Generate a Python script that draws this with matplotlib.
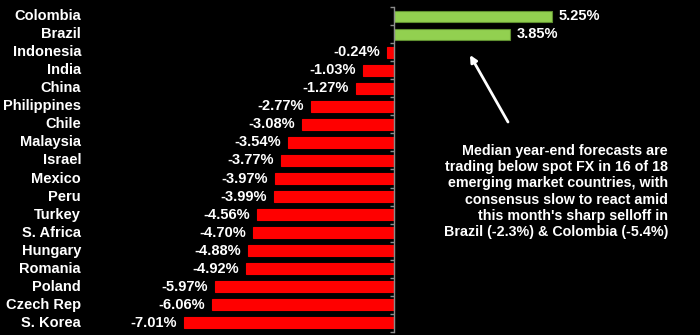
import matplotlib
matplotlib.use("Agg")
import matplotlib.pyplot as plt
import numpy as np

countries = ["Colombia", "Brazil", "Indonesia", "India", "China", "Philippines",
             "Chile", "Malaysia", "Israel", "Mexico", "Peru", "Turkey",
             "S. Africa", "Hungary", "Romania", "Poland", "Czech Rep", "S. Korea"]
values = [5.25, 3.85, -0.24, -1.03, -1.27, -2.77, -3.08, -3.54, -3.77, -3.97,
          -3.99, -4.56, -4.70, -4.88, -4.92, -5.97, -6.06, -7.01]

note = ("Median year-end forecasts are\n"
        "trading below spot FX in 16 of 18\n"
        "emerging market countries, with\n"
        "consensus slow to react amid\n"
        "this month's sharp selloff in\n"
        "Brazil (-2.3%) & Colombia (-5.4%)")

plt.rcParams['font.family'] = ['Liberation Sans', 'DejaVu Sans']

W, H = 700, 335
fig = plt.figure(figsize=(W / 100, H / 100), dpi=100, facecolor="black")
ax = fig.add_axes([0, 0.0099, 1, 0.9683], facecolor="black")

n = len(countries)
y = np.arange(n)
pos_face, pos_edge = "#92D050", "#5f8f30"
neg_face = "#FF0000"
faces = [pos_face if v > 0 else neg_face for v in values]
edges = [pos_edge if v > 0 else neg_face for v in values]
ax.barh(y, values, height=0.6, color=faces, edgecolor=edges, linewidth=0.8, zorder=2)

ax.set_xlim(-394 / 30, 306 / 30)
ax.set_ylim(n - 0.5, -0.5)

for sp in ["top", "right", "bottom"]:
    ax.spines[sp].set_visible(False)
ax.spines["left"].set_position(("data", 0))
ax.spines["left"].set_color("#8c8c8c")
ax.spines["left"].set_linewidth(1)
ax.spines["left"].set_zorder(3)
ax.set_xticks([])
ax.set_yticks(np.arange(n + 1) - 0.5)
ax.set_yticklabels([])
ax.tick_params(axis="y", direction="out", length=3, width=1, color="#8c8c8c")

label_tf = matplotlib.transforms.blended_transform_factory(ax.transAxes, ax.transData)
for yi, name in zip(y, countries):
    ax.text(81 / W, yi, name, transform=label_tf, ha="right", va="center",
            color="white", fontsize=10.5, fontweight="bold")

for yi, v in zip(y, values):
    off = 5 if v > 0 else -5
    ax.annotate(f"{v:.2f}%", xy=(v, yi), xytext=(off, 0), textcoords="offset points",
                ha="left" if v > 0 else "right", va="center",
                color="white", fontsize=10.5, fontweight="bold")

fig.text(668 / W, 1 - 191.5 / H, note, ha="right", va="center", multialignment="right",
         color="white", fontsize=10.25, fontweight="bold", linespacing=1.2)

ax.annotate("", xy=(470 / W, 1 - 55 / H), xytext=(508 / W, 1 - 122 / H),
            xycoords="figure fraction", textcoords="figure fraction",
            arrowprops=dict(arrowstyle="-|>", color="white", lw=2,
                            mutation_scale=10, shrinkA=0, shrinkB=0))

fig.savefig("out.png", dpi=100, facecolor="black")
